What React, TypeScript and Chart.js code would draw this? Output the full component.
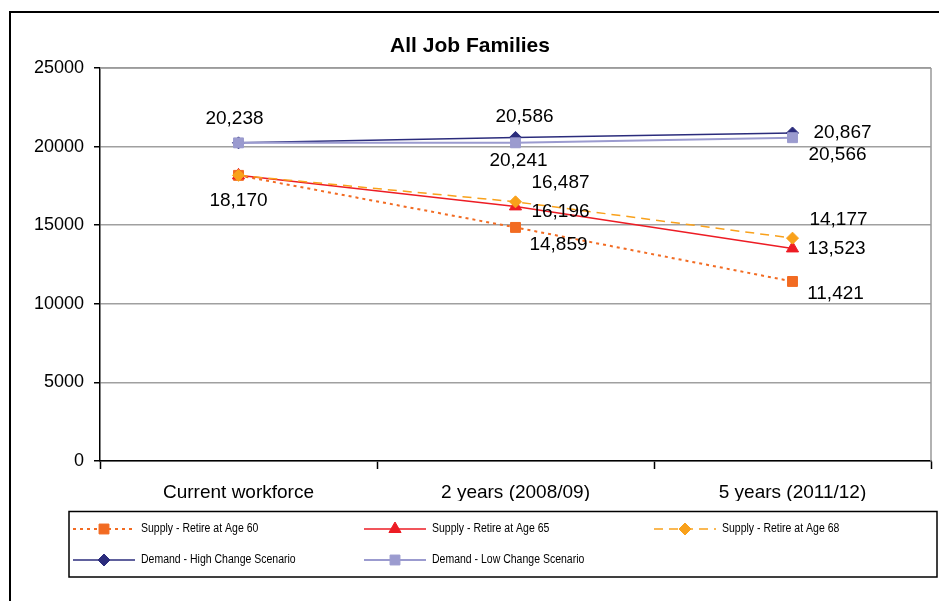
import React, { useEffect, useRef } from 'react';
import { Chart, registerables } from 'chart.js';
Chart.register(...registerables);

const chartTitle = 'All Job Families';
const categories = ['Current workforce', '2 years (2008/09)', '5 years (2011/12)'];
const seriesNames = [
  'Supply - Retire at Age 60',
  'Supply - Retire at Age 65',
  'Supply - Retire at Age 68',
  'Demand - High Change Scenario',
  'Demand - Low Change Scenario',
];
const supplyAge60 = [18170, 14859, 11421];
const supplyAge65 = [18170, 16196, 13523];
const supplyAge68 = [18170, 16487, 14177];
const demandHigh = [20238, 20586, 20867];
const demandLow = [20238, 20241, 20566];
const yTickValues = [0, 5000, 10000, 15000, 20000, 25000];
// which data labels are visible (per series, per category)
const labelShown = [
  [true, true, true],
  [false, true, true],
  [false, true, true],
  [true, true, true],
  [false, true, true],
];

// styling (kept separate from data)
const labelOffsets: [number, number][][] = [
  [[0, 25], [43, 17], [43, 12]],
  [[0, 0], [45, 5], [44, 0]],
  [[0, 0], [45, -19], [46, -18]],
  [[-4, -24], [9, -21], [50, 0]],
  [[0, 0], [3, 18], [45, 17]],
];
const colors = ['#F26B22', '#ED1C24', '#F9A11B', '#2B2C7C', '#9B9BCF'];
const dashes = [[3, 4], [], [9, 6], [], []];
const widths = [2, 1.5, 1.5, 1.5, 2];
const pointStyles = ['rect', 'triangle', 'rectRot', 'rectRot', 'rect'];
const pointRadii = [7, 7, 6, 6, 7];
const FONT = 'Arial, "Liberation Sans", sans-serif';

function drawMarker(ctx: CanvasRenderingContext2D, style: string, x: number, y: number, r: number, color: string) {
  ctx.save();
  ctx.fillStyle = color;
  ctx.strokeStyle = color;
  ctx.lineWidth = 1;
  ctx.setLineDash([]);
  ctx.beginPath();
  if (style === 'rect') {
    const s = Math.SQRT1_2 * r;
    ctx.rect(x - s, y - s, 2 * s, 2 * s);
  } else if (style === 'rectRot') {
    ctx.moveTo(x, y - r);
    ctx.lineTo(x + r, y);
    ctx.lineTo(x, y + r);
    ctx.lineTo(x - r, y);
    ctx.closePath();
  } else {
    ctx.moveTo(x, y - r);
    ctx.lineTo(x + r * 0.87, y + r * 0.5);
    ctx.lineTo(x - r * 0.87, y + r * 0.5);
    ctx.closePath();
  }
  ctx.fill();
  ctx.stroke();
  ctx.restore();
}

const overlay = {
  id: 'overlay',
  afterDraw(chart: any) {
    const ctx: CanvasRenderingContext2D = chart.ctx;
    const ca = chart.chartArea;
    ctx.save();
    // plot area border (top / right)
    ctx.strokeStyle = '#999999';
    ctx.lineWidth = 1.5;
    ctx.beginPath();
    ctx.moveTo(ca.right, ca.top);
    ctx.lineTo(ca.right, ca.bottom);
    ctx.moveTo(ca.left, ca.top);
    ctx.lineTo(ca.right, ca.top);
    ctx.stroke();

    // outer border (left / top only visible)
    ctx.strokeStyle = '#000';
    ctx.lineWidth = 2;
    ctx.beginPath();
    ctx.moveTo(10, 601);
    ctx.lineTo(10, 12);
    ctx.lineTo(939, 12);
    ctx.stroke();

    // title
    ctx.fillStyle = '#000';
    ctx.font = 'bold 21px ' + FONT;
    ctx.textAlign = 'center';
    ctx.textBaseline = 'middle';
    ctx.fillText(chartTitle, 470, 46);

    // data labels
    ctx.font = '19px ' + FONT;
    chart.data.datasets.forEach((ds: any, i: number) => {
      const meta = chart.getDatasetMeta(i);
      meta.data.forEach((pt: any, j: number) => {
        if (!labelShown[i][j]) return;
        const [dx, dy] = labelOffsets[i][j];
        ctx.fillText(Number(ds.data[j]).toLocaleString('en-US'), pt.x + dx, pt.y + dy);
      });
    });

    // legend box
    ctx.strokeStyle = '#000';
    ctx.lineWidth = 1.5;
    ctx.strokeRect(69, 511.5, 868, 65.5);
    const cols = [73, 364, 654];
    const rows = [529, 560];
    ctx.textAlign = 'left';
    chart.data.datasets.forEach((ds: any, i: number) => {
      const x = cols[i % 3];
      const y = rows[Math.floor(i / 3)];
      ctx.save();
      ctx.strokeStyle = colors[i];
      ctx.lineWidth = widths[i];
      ctx.setLineDash(dashes[i]);
      ctx.beginPath();
      ctx.moveTo(x, y);
      ctx.lineTo(x + 62, y);
      ctx.stroke();
      ctx.restore();
      drawMarker(ctx, pointStyles[i], x + 31, y, pointRadii[i], colors[i]);
      // condensed text (narrow face emulation)
      ctx.save();
      ctx.translate(x + 68, y);
      ctx.scale(0.84, 1);
      ctx.font = '12.5px ' + FONT;
      ctx.fillStyle = '#000';
      ctx.fillText(seriesNames[i], 0, 0);
      ctx.restore();
    });
    ctx.restore();
  },
};

export default function App() {
  const ref = useRef<HTMLCanvasElement>(null);
  useEffect(() => {
    const seriesData = [supplyAge60, supplyAge65, supplyAge68, demandHigh, demandLow];
    const chart = new Chart(ref.current as HTMLCanvasElement, {
      type: 'line',
      data: {
        labels: categories,
        datasets: seriesData.map((d, i) => ({
          label: seriesNames[i],
          data: d,
          borderColor: colors[i],
          backgroundColor: colors[i],
          borderWidth: widths[i],
          borderDash: dashes[i],
          pointStyle: pointStyles[i] as any,
          pointRadius: pointRadii[i],
          pointBorderWidth: 1,
          pointBackgroundColor: colors[i],
          pointBorderColor: colors[i],
          tension: 0,
          fill: false,
          order: 5 - i,
        })),
      },
      options: {
        responsive: false,
        animation: false,
        devicePixelRatio: 1,
        layout: { padding: { top: 68, left: 0, right: 8, bottom: 100 } },
        plugins: {
          legend: { display: false },
          title: { display: false },
          tooltip: { enabled: false },
        },
        scales: {
          x: {
            type: 'category',
            offset: true,
            grid: {
              offset: true,
              drawOnChartArea: false,
              tickColor: '#000',
              tickLength: 8,
              tickWidth: 1.5,
            },
            border: { color: '#000', width: 1.5 },
            ticks: { color: '#000', font: { family: FONT, size: 19 }, padding: 12, maxRotation: 0 },
            afterFit: (s: any) => { s.height = 40; },
          },
          y: {
            min: 0,
            max: 25000,
            afterBuildTicks: (s: any) => { s.ticks = yTickValues.map((v) => ({ value: v })); },
            grid: { color: '#A0A0A0', lineWidth: 1.5, tickColor: '#000', tickLength: 6, tickWidth: 1.5 },
            border: { color: '#000', width: 1.5 },
            ticks: { color: '#000', font: { family: FONT, size: 18 }, padding: 10, callback: (v: any) => String(v) },
            afterFit: (s: any) => { s.width = 100; },
          },
        },
      },
      plugins: [overlay],
    });
    return () => chart.destroy();
  }, []);
  return (
    <div style={{ position: 'absolute', left: 0, top: 0, width: 939, height: 601, background: '#fff' }}>
      <canvas ref={ref} width={939} height={601} style={{ display: 'block' }} />
    </div>
  );
}
